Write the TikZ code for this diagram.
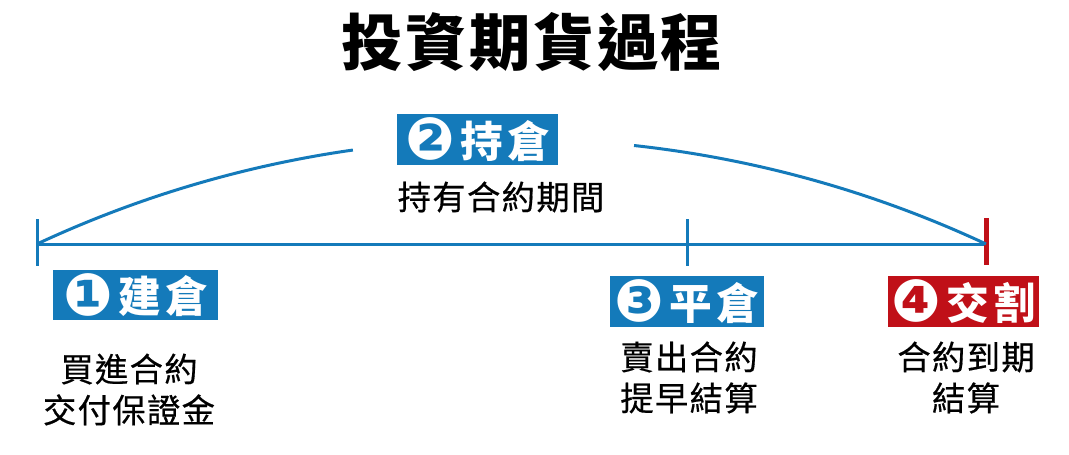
\documentclass[tikz,border=0pt]{standalone}
\usepackage{fontspec}
\usepackage{xcolor}
\usetikzlibrary{positioning}
\setmainfont{Noto Sans CJK TC}
\newfontfamily\bodyfont{Noto Sans CJK TC}[LetterSpace=4]
\newfontfamily\notefont{Noto Sans CJK TC}[LetterSpace=4, FakeBold=0.5]
\newfontfamily\tagfont{Noto Sans CJK TC}[LetterSpace=10]
\newfontfamily\numfont{DejaVu Sans}
\definecolor{holdblue}{RGB}{20,122,186}
\definecolor{settlered}{RGB}{192,16,24}
\newcommand{\stepnum}[1]{\raisebox{-2pt}{\numfont\fontsize{44}{44}\selectfont#1}}

\begin{document}
\begin{tikzpicture}[
    x=0.75pt, y=0.75pt,
    % Text styles
    title/.style={font=\bodyfont\bfseries\fontsize{46}{50}\selectfont, inner sep=0pt},
    tagbox/.style={rectangle, minimum height=38pt, inner sep=0pt, text=white, font=\tagfont\bfseries\fontsize{32}{36}\selectfont},
    note/.style={align=center, inner sep=0pt, font=\notefont\fontsize{25}{30.75}\selectfont},
    % Line styles
    timeline/.style={line width=2.25pt, color=holdblue},
    tick/.style={line width=2.25pt, color=holdblue},
    endtick/.style={line width=3.75pt, color=settlered},
]
\useasboundingbox (0,0) rectangle (1069,454);

% Title
\node[title] (title) at (532,412) {投資期貨過程};

% Points on the time line
\coordinate (open) at (37,210);
\coordinate (close) at (687,210);
\coordinate (expiry) at (986,210);

% Time line and ticks
\draw[timeline] (open) -- (expiry);
\draw[tick] ([yshift=18.75pt]open) -- ([yshift=-16.5pt]open);
\draw[tick] ([yshift=18.75pt]close) -- ([yshift=-16.5pt]close);
\draw[endtick] ([yshift=19.5pt]expiry) -- ([yshift=-15.75pt]expiry);

% Holding period arc, open at the top for the tag
\draw[timeline] (open) arc[start angle=115.03, end angle=98.11, radius=1120];
\draw[timeline] (expiry) arc[start angle=64.97, end angle=83.75, radius=1120];

% Step tags
\node[tagbox, fill=holdblue, minimum width=124pt] (opentag) at (135.5,159) {\stepnum{❶}\hspace{4pt}建倉};
\node[tagbox, fill=holdblue, minimum width=121pt] (holdtag) at (477.5,314.5) {\stepnum{❷}\hspace{4pt}持倉};
\node[tagbox, fill=holdblue, minimum width=115.5pt] (closetag) at (687,152.5) {\stepnum{❸}\hspace{4pt}平倉};
\node[tagbox, fill=settlered, minimum width=113pt] (expirytag) at (963.5,152.5) {\stepnum{❹}\hspace{4pt}交割};

% Notes under the tags
\node[note] (holdnote) at (501,257) {持有合約期間};
\node[note] (opennote) at (129,64.5) {買進合約\\交付保證金};
\node[note] (closenote) at (689,76.5) {賣出合約\\提早結算};
\node[note] (expirynote) at (966,76.5) {合約到期\\結算};

\end{tikzpicture}
\end{document}
